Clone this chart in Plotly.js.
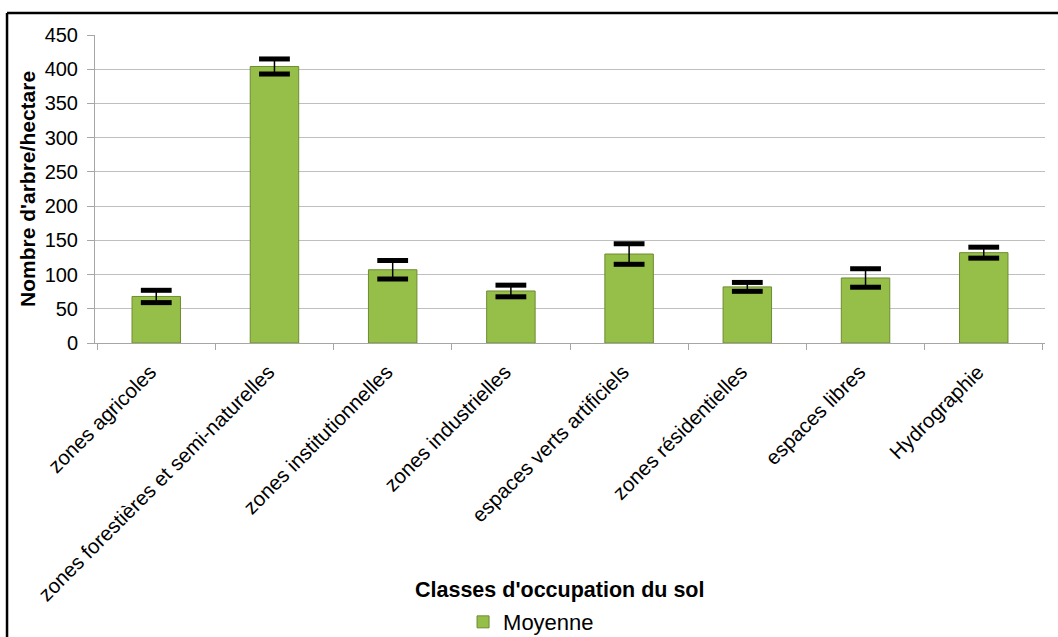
<!DOCTYPE html>
<html>
<head>
<meta charset="utf-8">
<script src="https://cdn.plot.ly/plotly-3.0.1.min.js"></script>
<style>
html,body{margin:0;padding:0;background:#fff;}
#chart{width:1058px;height:637px;}
</style>
</head>
<body>
<div id="chart"></div>
<script>
const categories = [
  "zones agricoles",
  "zones forestières et semi-naturelles",
  "zones institutionnelles",
  "zones industrielles",
  "espaces verts artificiels",
  "zones résidentielles",
  "espaces libres",
  "Hydrographie"
];
const moyenne = [68, 404, 107, 76, 130, 82, 95, 132];
const erreur = [9, 11, 13.5, 8.5, 15, 6.5, 13.5, 8];
const seriesName = "Moyenne";
const xTitle = "Classes d'occupation du sol";
const yTitle = "Nombre d'arbre/hectare";

const capX = categories.concat(categories);
const capY = moyenne.map((v, i) => v + erreur[i]).concat(moyenne.map((v, i) => v - erreur[i]));

const font = "Liberation Sans, Arial, sans-serif";

const traces = [
  {
    type: "bar",
    name: seriesName,
    x: categories,
    y: moyenne,
    marker: {color: "#95bf48", line: {color: "#6e8b30", width: 1}},
    error_y: {type: "data", array: erreur, visible: true, width: 0, thickness: 1.5, color: "#000"},
    showlegend: true
  },
  {
    type: "scatter",
    mode: "markers",
    x: capX,
    y: capY,
    marker: {symbol: "line-ew", size: 22, color: "#000", line: {color: "#000", width: 5}},
    showlegend: false,
    hoverinfo: "skip"
  }
];

const layout = {
  width: 1058,
  height: 637,
  margin: {l: 95, r: 13, t: 35, b: 294, autoexpand: false},
  paper_bgcolor: "#fff",
  plot_bgcolor: "#fff",
  font: {family: font, size: 20, color: "#000"},
  bargap: 0.59,
  showlegend: true,
  legend: {
    orientation: "h",
    x: 0.459, xanchor: "center",
    y: -0.906, yanchor: "middle",
    font: {family: font, size: 22, color: "#000"},
    itemwidth: 30
  },
  xaxis: {
    type: "category",
    tickangle: -45,
    tickfont: {family: font, size: 20.5, color: "#000"},
    ticklabelstandoff: 8,
    ticklabelshift: -6,
    showline: true,
    linecolor: "#a6a6a6",
    linewidth: 1,
    ticks: "outside",
    tickson: "boundaries",
    ticklen: 6,
    tickcolor: "#a6a6a6",
    showgrid: false,
    zeroline: false,
    automargin: false,
    fixedrange: true
  },
  yaxis: {
    range: [0, 450],
    dtick: 50,
    tickfont: {family: font, size: 20, color: "#000"},
    ticklabelstandoff: 5,
    showline: true,
    linecolor: "#a6a6a6",
    linewidth: 1,
    ticks: "outside",
    ticklen: 7,
    tickcolor: "#a6a6a6",
    showgrid: true,
    gridcolor: "#bfbfbf",
    gridwidth: 1,
    zeroline: false,
    automargin: false,
    fixedrange: true
  },
  annotations: [
    {
      text: "<b>" + xTitle + "</b>",
      xref: "paper", yref: "paper",
      x: 0.489, y: -0.802,
      xanchor: "center", yanchor: "middle",
      showarrow: false,
      font: {family: font, size: 21.5, color: "#000"}
    },
    {
      text: "<b>" + yTitle + "</b>",
      xref: "paper", yref: "paper",
      x: -0.0716, y: 0.5,
      xanchor: "center", yanchor: "middle",
      textangle: -90,
      showarrow: false,
      font: {family: font, size: 21, color: "#000"}
    }
  ],
  shapes: [
    {type: "line", xref: "paper", yref: "paper", x0: -0.0926, x1: -0.0926, y0: -1.2, y1: 1.0714, line: {color: "#000", width: 2.5}},
    {type: "line", xref: "paper", yref: "paper", x0: -0.0926, x1: 1.2, y0: 1.0714, y1: 1.0714, line: {color: "#000", width: 2.5}}
  ]
};

Plotly.newPlot("chart", traces, layout, {displayModeBar: false, staticPlot: true});
</script>
</body>
</html>
